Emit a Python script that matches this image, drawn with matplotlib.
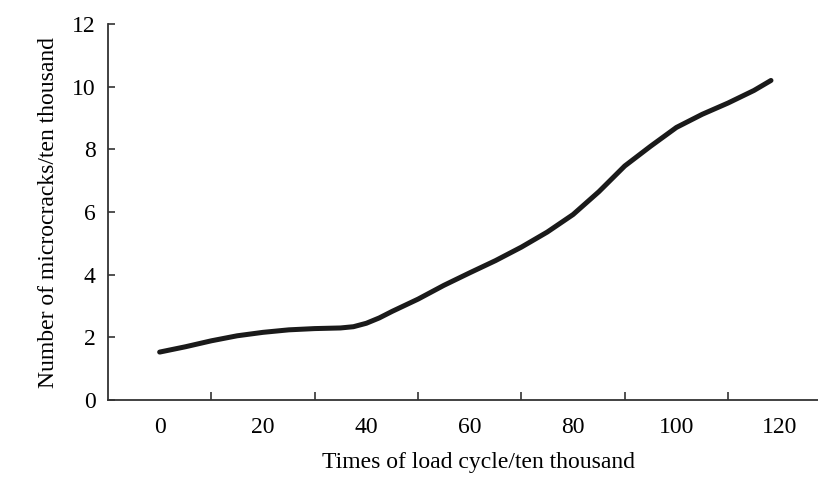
import matplotlib.pyplot as plt

plt.rcParams['font.family'] = ['Liberation Serif', 'DejaVu Serif']

# 读图得到的数据
cycles = [0, 5, 10, 15, 20, 25, 30, 35, 37.5, 40, 42.5, 45, 50, 55, 60, 65,
          70, 75, 80, 85, 90, 95, 100, 105, 110, 115, 118.3]
cracks = [1.53, 1.70, 1.89, 2.05, 2.16, 2.24, 2.28, 2.30, 2.34, 2.45, 2.62,
          2.83, 3.22, 3.66, 4.06, 4.45, 4.88, 5.36, 5.92, 6.65, 7.47, 8.10,
          8.70, 9.12, 9.48, 9.88, 10.2]
x_labels = [0, 20, 40, 60, 80, 100, 120]
y_ticks = [0, 2, 4, 6, 8, 10, 12]

fig = plt.figure(figsize=(8.18, 4.91), dpi=100)
ax = fig.add_axes([0.132, 0.1853, 0.868, 0.7657])

ax.plot(cycles, cracks, color='#1a1a1a', lw=3.6, solid_capstyle='round',
        solid_joinstyle='round')

ax.set_xlim(-10, 127.4)
ax.set_ylim(0, 12)

# 标签在 0,20,...，刻度线在标签之间
ax.set_xticks(x_labels)
ax.set_xticklabels([str(v) for v in x_labels])
ax.tick_params(axis='x', which='major', length=0, pad=12, labelsize=17)
ax.set_xticks([v + 10 for v in x_labels[:-1]], minor=True)
ax.tick_params(axis='x', which='minor', direction='in', length=6, width=1.2,
               color='#333333')

ax.set_yticks(y_ticks)
ax.tick_params(axis='y', direction='in', length=5, width=1.2, pad=9,
               labelsize=17, color='#333333')

for s in ['top', 'right']:
    ax.spines[s].set_visible(False)
for s in ['left', 'bottom']:
    ax.spines[s].set_linewidth(1.3)
    ax.spines[s].set_color('#333333')

ax.set_xlabel('Times of load cycle/ten thousand', fontsize=17)
ax.xaxis.set_label_coords(0.5225, -0.138)
ax.set_ylabel('Number of microcracks/ten thousand', fontsize=17, labelpad=9)

fig.savefig('out.png', dpi=100)
